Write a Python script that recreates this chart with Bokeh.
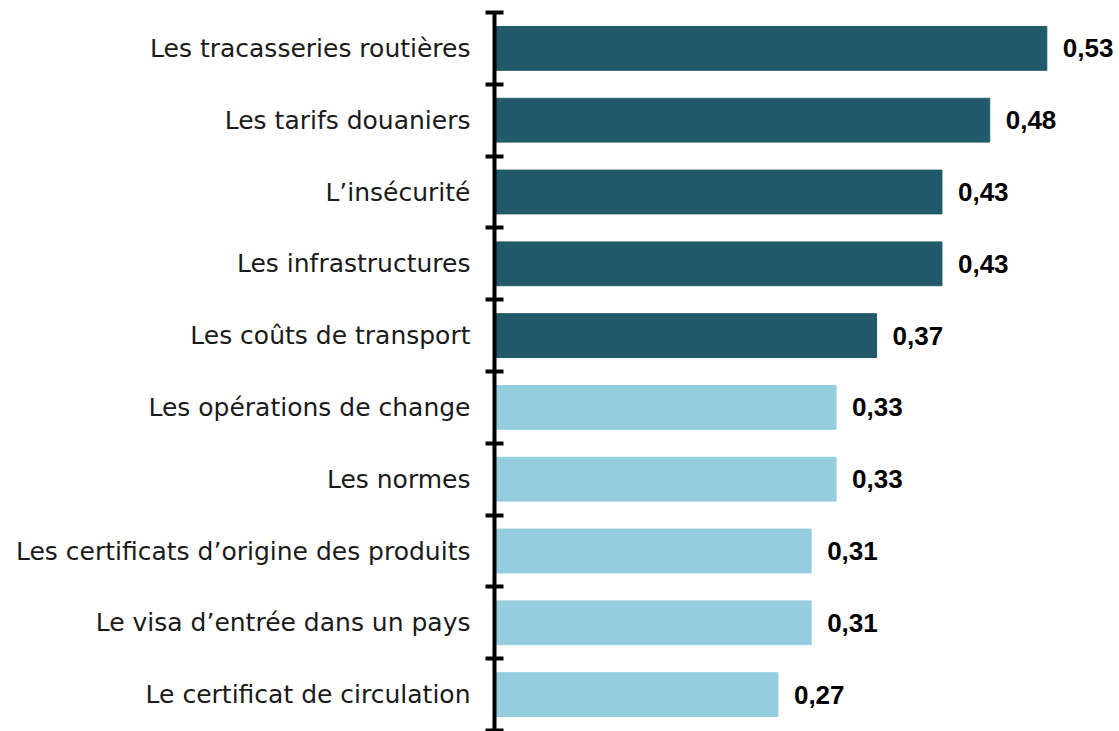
from bokeh.plotting import figure
from bokeh.models import ColumnDataSource, Range1d, FixedTicker
from bokeh.core.properties import value
from bokeh.embed import file_html
from bokeh.resources import INLINE

categories = [
    "Les tracasseries routières",
    "Les tarifs douaniers",
    "L\u2019insécurité",
    "Les infrastructures",
    "Les coûts de transport",
    "Les opérations de change",
    "Les normes",
    "Les certificats d\u2019origine des produits",
    "Le visa d\u2019entrée dans un pays",
    "Le certificat de circulation",
]
# bar lengths (labels show the rounded values)
values = [0.532, 0.477, 0.431, 0.431, 0.368, 0.329, 0.329, 0.305, 0.305, 0.273]
groups = ["top", "top", "top", "top", "top", "low", "low", "low", "low", "low"]
labels = ["0,53", "0,48", "0,43", "0,43", "0,37", "0,33", "0,33", "0,31", "0,31", "0,27"]

DARK = "#225A69"
LIGHT = "#94CDDD"

n = len(categories)
ypos = [i + 0.5 for i in range(n)]
colors = [DARK if g == "top" else LIGHT for g in groups]

src = ColumnDataSource(dict(y=ypos, v=values, c=colors, lab=labels, cat=categories))

p = figure(width=1119, height=731, output_backend="svg", toolbar_location=None,
           x_range=Range1d(0, 0.602), y_range=Range1d(n, 0),
           min_border_left=494, min_border_right=0, min_border_top=12, min_border_bottom=1)

p.hbar(y="y", left=0, right="v", height=0.61, color="c", source=src)
p.text(x="v", y="y", text="lab", source=src, x_offset=16, text_baseline="middle",
       text_align="left", text_font=value("Liberation Sans"), text_font_style="bold",
       text_font_size="26px", text_color="black")

p.xaxis.visible = False
p.xgrid.visible = False
p.ygrid.visible = False
p.outline_line_color = None

ax = p.yaxis[0]
ax.ticker = FixedTicker(ticks=ypos, minor_ticks=list(range(n + 1)))
ax.major_label_overrides = {y: c for y, c in zip(ypos, categories)}
ax.major_tick_in = 0
ax.major_tick_out = 0
ax.minor_tick_in = 9
ax.minor_tick_out = 9
ax.minor_tick_line_width = 4
ax.minor_tick_line_color = "black"
ax.axis_line_width = 4
ax.axis_line_color = "black"
ax.major_label_standoff = 15
ax.major_label_text_font = "DejaVu Sans"
ax.major_label_text_font_size = "25px"
ax.major_label_text_color = "#1a1a1a"

open("out.html", "w").write(file_html(p, INLINE))
